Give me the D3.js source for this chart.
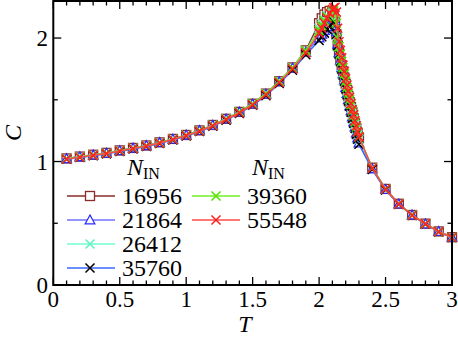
<!DOCTYPE html>
<meta charset="utf-8" />
<style>
  body { margin: 0; background: #fff; overflow: hidden; }
</style>
<body>
<svg id="chart"></svg>
<script src="https://cdnjs.cloudflare.com/ajax/libs/d3/7.8.5/d3.min.js"></script>
<script>
var width = 458, height = 342;

// temperatures (dense sampling near the peak)
var temps = [0.1,0.2,0.3,0.4,0.5,0.6,0.7,0.8,0.9,1.0,1.1,1.2,1.3,1.4,1.5,1.6,1.7,1.8,1.9,
  2.0,2.02,2.04,2.06,2.08,2.10,2.11,2.12,2.13,2.14,2.15,2.16,2.17,2.18,2.19,2.20,2.21,2.22,2.23,2.24,2.25,2.26,2.27,2.28,2.29,2.30,
  2.4,2.5,2.6,2.7,2.8,2.9,3.0];

var c16956 = [1.025,1.04,1.055,1.07,1.09,1.11,1.13,1.155,1.183,1.215,1.252,1.296,1.346,1.402,1.468,1.55,1.65,1.762,1.9,
  2.12,2.16,2.19,2.21,2.22,2.21,2.19,2.13,2.03,1.94,1.88,1.83,1.78,1.73,1.68,1.63,1.58,1.53,1.48,1.44,1.4,1.35,1.31,1.27,1.23,1.19,
  0.95,0.778,0.658,0.567,0.497,0.434,0.387];
var c21864 = [1.022,1.037,1.052,1.067,1.087,1.108,1.128,1.153,1.18,1.213,1.25,1.293,1.343,1.4,1.465,1.545,1.645,1.755,1.885,
  2.0,2.03,2.06,2.09,2.12,2.15,2.16,2.14,2.05,1.95,1.88,1.82,1.76,1.71,1.66,1.6,1.55,1.5,1.45,1.41,1.36,1.32,1.28,1.23,1.19,1.15,
  0.94,0.772,0.655,0.566,0.494,0.433,0.386];
var c26412 = [1.023,1.038,1.053,1.068,1.088,1.108,1.128,1.153,1.181,1.213,1.25,1.294,1.344,1.4,1.466,1.547,1.647,1.758,1.892,
  2.08,2.12,2.15,2.18,2.2,2.2,2.18,2.12,2.02,1.93,1.87,1.82,1.77,1.72,1.67,1.62,1.57,1.52,1.47,1.43,1.38,1.34,1.3,1.26,1.22,1.18,
  0.945,0.776,0.656,0.566,0.495,0.433,0.386];
var c35760 = [1.018,1.032,1.047,1.062,1.082,1.102,1.122,1.147,1.174,1.206,1.243,1.286,1.335,1.39,1.455,1.533,1.632,1.74,1.865,
  1.98,2.01,2.04,2.07,2.1,2.12,2.13,2.11,2.03,1.94,1.87,1.81,1.75,1.7,1.65,1.59,1.54,1.49,1.45,1.4,1.35,1.31,1.27,1.22,1.18,1.14,
  0.935,0.77,0.652,0.563,0.492,0.43,0.384];
var c39360 = [1.022,1.037,1.052,1.067,1.087,1.107,1.127,1.152,1.18,1.212,1.25,1.293,1.344,1.402,1.468,1.55,1.65,1.76,1.9,
  2.06,2.1,2.14,2.17,2.2,2.22,2.22,2.2,2.12,2.0,1.93,1.87,1.81,1.76,1.71,1.65,1.6,1.55,1.5,1.46,1.41,1.37,1.32,1.28,1.24,1.2,
  0.948,0.776,0.656,0.566,0.495,0.432,0.385];
var c55548 = [1.02,1.035,1.05,1.065,1.085,1.105,1.125,1.15,1.178,1.21,1.247,1.29,1.34,1.395,1.46,1.54,1.64,1.75,1.88,
  2.04,2.08,2.12,2.16,2.2,2.23,2.245,2.25,2.21,2.08,1.97,1.9,1.84,1.78,1.73,1.67,1.62,1.57,1.52,1.47,1.42,1.38,1.33,1.29,1.24,1.2,
  0.945,0.775,0.655,0.565,0.495,0.432,0.385];

var names = ["16956","21864","26412","35760","39360","55548"];
var seriesVals = [c16956, c21864, c26412, c35760, c39360, c55548];
var xTicks = [0,0.5,1,1.5,2,2.5,3];
var xTickLabels = ["0","0.5","1","1.5","2","2.5","3"];
var yTicks = [0,1,2];

var lineCol = ["#8b2a2a","#7070ff","#70ffd0","#3868ff","#6ef020","#ff4848"];
var markCol = ["#8b2a2a","#2a2aff","#60f0c0","#000000","#55e000","#ff2020"];
var shapes = ["square","triangle","cross","cross","cross","cross"];

var x0 = 53.3, x1 = 452, yBot = 285, yTop = 1;
var sx = d3.scaleLinear().domain([0,3]).range([x0,x1]);
var sy = d3.scaleLinear().domain([0,2.3]).range([yBot,yTop]);

var svg = d3.select("#chart").attr("width", width).attr("height", height)
  .style("font-family", "'Times New Roman', 'Liberation Serif', Tinos, serif");

function drawMarker(g, shape, color) {
  if (shape == "square") {
    g.append("rect").attr("x",-4.5).attr("y",-4.5).attr("width",9).attr("height",9)
      .attr("fill","#fff").attr("stroke",color).attr("stroke-width",1.3);
  } else if (shape == "triangle") {
    g.append("path").attr("d","M0,-5L4.8,3.8L-4.8,3.8Z")
      .attr("fill","#fff").attr("stroke",color).attr("stroke-width",1.3);
  } else {
    g.append("path").attr("d","M-4.5,-4.5L4.5,4.5M-4.5,4.5L4.5,-4.5")
      .attr("fill","none").attr("stroke",color).attr("stroke-width",1.5);
  }
}

var line = d3.line().x(d => sx(d[0])).y(d => sy(d[1]));

seriesVals.forEach(function(vals, i) {
  var pts = temps.map((t, j) => [t, vals[j]]);
  var g = svg.append("g");
  g.append("path").datum(pts).attr("d", line)
    .attr("fill","none").attr("stroke",lineCol[i]).attr("stroke-width",1.5);
  g.selectAll("g.m").data(pts).enter().append("g")
    .attr("transform", d => "translate(" + sx(d[0]) + "," + sy(d[1]) + ")")
    .each(function() { drawMarker(d3.select(this), shapes[i], markCol[i]); });
});

// axes with inward ticks on all sides
var xMinor = d3.range(0, 3.001, 0.1);
var yMinor = d3.range(0, 2.3, 0.5);
var axG = svg.append("g").attr("stroke","#000");
xMinor.forEach(function(t) {
  var major = Math.abs(t*2 - Math.round(t*2)) < 1e-6;
  var len = major ? 8 : 4.5;
  axG.append("line").attr("x1",sx(t)).attr("x2",sx(t)).attr("y1",yBot).attr("y2",yBot-len).attr("stroke-width",1.3);
  axG.append("line").attr("x1",sx(t)).attr("x2",sx(t)).attr("y1",yTop).attr("y2",yTop+len).attr("stroke-width",1.3);
});
yMinor.forEach(function(v) {
  var major = Math.abs(v - Math.round(v)) < 1e-6;
  var len = major ? 8 : 4.5;
  axG.append("line").attr("x1",x0).attr("x2",x0+len).attr("y1",sy(v)).attr("y2",sy(v)).attr("stroke-width",1.3);
  axG.append("line").attr("x1",x1).attr("x2",x1-len).attr("y1",sy(v)).attr("y2",sy(v)).attr("stroke-width",1.3);
});
svg.append("rect").attr("x",x0).attr("y",yTop).attr("width",x1-x0).attr("height",yBot-yTop)
  .attr("fill","none").attr("stroke","#000").attr("stroke-width",2);

svg.selectAll("text.xt").data(xTicks).enter().append("text")
  .attr("x", d => sx(d)).attr("y", 307).attr("text-anchor","middle")
  .attr("font-size", 23).text((d, i) => xTickLabels[i]);
svg.selectAll("text.yt").data(yTicks).enter().append("text")
  .attr("x", 48).attr("y", d => sy(d) + 8).attr("text-anchor","end")
  .attr("font-size", 23).text(d => d);

svg.append("text").attr("x",245).attr("y",332).attr("text-anchor","middle")
  .attr("font-size",24).attr("font-style","italic").text("T");
svg.append("text").attr("transform","translate(21,133) rotate(-90)").attr("text-anchor","middle")
  .attr("font-size",24).attr("font-style","italic").text("C");

// legend
var cols = [{lx: 67, mx: 90, tx: 122, hx: 127}, {lx: 192, mx: 216, tx: 247, hx: 252}];
cols.forEach(function(c) {
  var h = svg.append("text").attr("x", c.hx).attr("y", 175).attr("font-size", 24);
  h.append("tspan").attr("font-style","italic").text("N");
  h.append("tspan").attr("font-size", 16).attr("dy", 4).text("IN");
});
names.forEach(function(n, i) {
  var c = cols[i < 4 ? 0 : 1];
  var y = 196 + 24 * (i < 4 ? i : i - 4);
  svg.append("line").attr("x1", c.lx).attr("x2", c.lx + 48).attr("y1", y).attr("y2", y)
    .attr("stroke", lineCol[i]).attr("stroke-width", 1.5);
  drawMarker(svg.append("g").attr("transform","translate(" + c.mx + "," + y + ")"), shapes[i], markCol[i]);
  svg.append("text").attr("x", c.tx).attr("y", y + 8).attr("font-size", 24).text(n);
});
</script>
</body>
